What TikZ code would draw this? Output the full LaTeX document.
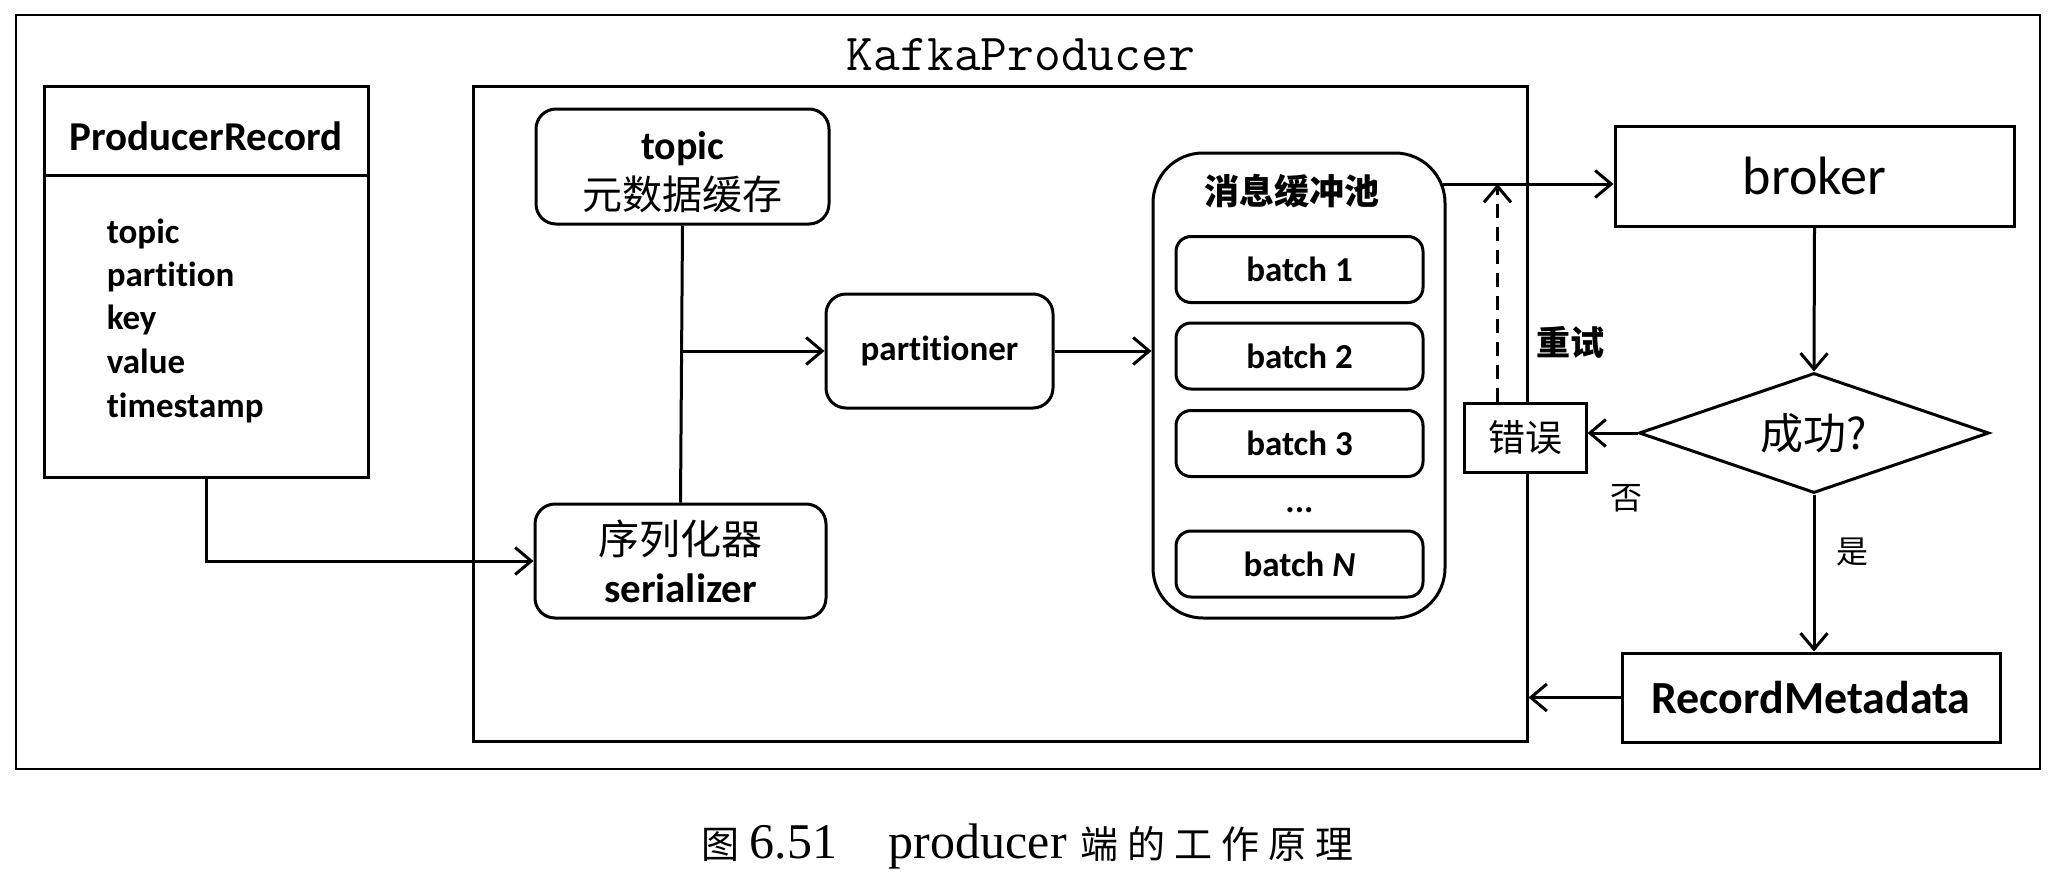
\documentclass[tikz,border=0pt]{standalone}
\usepackage{fontspec}
\setmainfont{Carlito}[Ligatures=NoCommon]
\newfontfamily\cjk{Noto Sans CJK SC}
\newfontfamily\capserif{Liberation Serif}
\usetikzlibrary{arrows.meta,shapes.geometric}
\begin{document}
\begin{tikzpicture}[x=1pt,y=-1pt, line width=3pt,
  arr/.style={-{Straight Barb[length=16pt,width=27pt,line width=3pt]}},
  box/.style={draw, rectangle, inner sep=0pt},
  rbox/.style={draw, rectangle, rounded corners=20pt, inner sep=0pt},
  lbl/.style={font=\fontsize{35}{42}\selectfont\bfseries},
  cjklbl/.style={font=\cjk\fontsize{#1}{#1}\selectfont},
  cjkbold/.style={font=\cjk\bfseries\fontsize{#1}{#1}\selectfont},
  ]
\useasboundingbox (0,0) rectangle (2062,878);
\fill[white] (0,0) rectangle (2062,878);

% frames
\node[box, line width=2.5pt, minimum width=2024pt, minimum height=754pt] (outer) at (1028,392) {};
\node[box, minimum width=1054pt, minimum height=655pt] (kp) at (1000,413.5) {};
\node[font=\ttfamily\fontsize{52}{52}\selectfont, anchor=base] (title) at (1021,70) {KafkaProducer};

% ProducerRecord
\node[box, minimum width=324pt, minimum height=391pt] (pr) at (206,281.5) {};
\draw (pr.west |- 0,175) -- (pr.east |- 0,175);
\node[font=\fontsize{41}{41}\selectfont\bfseries, anchor=base] (prh) at (206,150) {ProducerRecord};
\node[lbl, anchor=base west] (f1) at (102,243) {topic};
\node[lbl, anchor=base west] (f2) at (102,286) {partition};
\node[lbl, anchor=base west] (f3) at (102,329) {key};
\node[lbl, anchor=base west] (f4) at (102,373) {value};
\node[lbl, anchor=base west] (f5) at (102,417) {timestamp};

% inner boxes
\node[rbox, minimum width=293pt, minimum height=115pt] (tb) at (682.5,166.5) {};
\node[align=center, inner sep=0pt, font=\fontsize{40}{50}\selectfont] (tbtext) at ([yshift=-6pt]tb.center)
      {{\bfseries topic}\\{\cjk 元数据缓存}};
\node[rbox, minimum width=227pt, minimum height=114pt, lbl] (pt) at (939.5,351) {partitioner};
\node[rbox, minimum width=291pt, minimum height=114pt, align=center,
      font=\fontsize{41}{48}\selectfont] (sz) at (680.5,561)
      {{\cjk 序列化器}\\{\bfseries serializer}};

% buffer pool
\node[rbox, rounded corners=50pt, minimum width=292pt, minimum height=465pt] (pool) at (1299,385.5) {};
\node[cjkbold=35] (pooltitle) at (1292,191) {消息缓冲池};
\node[rbox, rounded corners=15pt, minimum width=247pt, minimum height=66pt, lbl] (b1) at (1299.5,269.5) {batch 1};
\node[rbox, rounded corners=15pt, minimum width=247pt, minimum height=66pt, lbl] (b2) at (1299.5,356) {batch 2};
\node[rbox, rounded corners=15pt, minimum width=247pt, minimum height=66pt, lbl] (b3) at (1299.5,443.5) {batch 3};
\node[lbl, anchor=base] (bdots) at (1299.5,512) {...};
\node[rbox, rounded corners=15pt, minimum width=247pt, minimum height=66pt, lbl] (bn) at (1299.5,564) {batch \textit{N}};

% right side
\node[box, minimum width=399pt, minimum height=100pt, font=\fontsize{54}{54}\selectfont] (broker) at (1814.5,176) {broker};
\node[draw, diamond, aspect=2.9, minimum width=350pt, minimum height=120pt, inner sep=0pt, cjklbl=43] (dm) at (1814,433) {成功?};
\node[box, fill=white, minimum width=122pt, minimum height=69pt, cjklbl=37] (err) at (1525,437.5) {错误};
\node[box, minimum width=378pt, minimum height=89pt, font=\fontsize{46}{46}\selectfont\bfseries] (rm) at (1811,697.5) {RecordMetadata};

\node[cjkbold=34] (retry) at (1570,342) {重试};
\node[cjklbl=32] (no) at (1626,498) {否};
\node[cjklbl=32] (yes) at (1852,552) {是};

% connectors
\draw[arr] (pr.south) |- (sz.west);
\draw (tb.south) -- (sz.north);
\draw[arr] (tb.south |- pt.west) -- (pt.west);
\draw[arr] (pt.east) -- (pt.east -| pool.west);
\coordinate (poolout) at (1443,184);
\draw[arr] (poolout) -- (poolout -| broker.west);
\coordinate (errtop) at ([xshift=35pt]err.north west);
\draw[arr, dash pattern=on 14pt off 9pt] (errtop) -- (errtop |- poolout);
\draw[arr] (broker.south) -- (dm.north);
\draw[arr] (dm.west) -- (dm.west -| err.east);
\draw[arr] (dm.south) -- (dm.south |- rm.north);
\draw[arr] (rm.west) -- (rm.west -| kp.east);

% caption
\node[anchor=base west, inner sep=0pt] (caption) at (700,858)
  {{\cjk\fontsize{38}{38}\selectfont 图}\hspace{10pt}{\capserif\fontsize{50}{50}\selectfont 6.51}\hspace{52pt}{\capserif\fontsize{50}{50}\selectfont producer}\hspace{14pt}{\cjk\fontsize{38}{38}\selectfont 端\hspace{9pt}的\hspace{9pt}工\hspace{9pt}作\hspace{9pt}原\hspace{9pt}理}};
\end{tikzpicture}
\end{document}
